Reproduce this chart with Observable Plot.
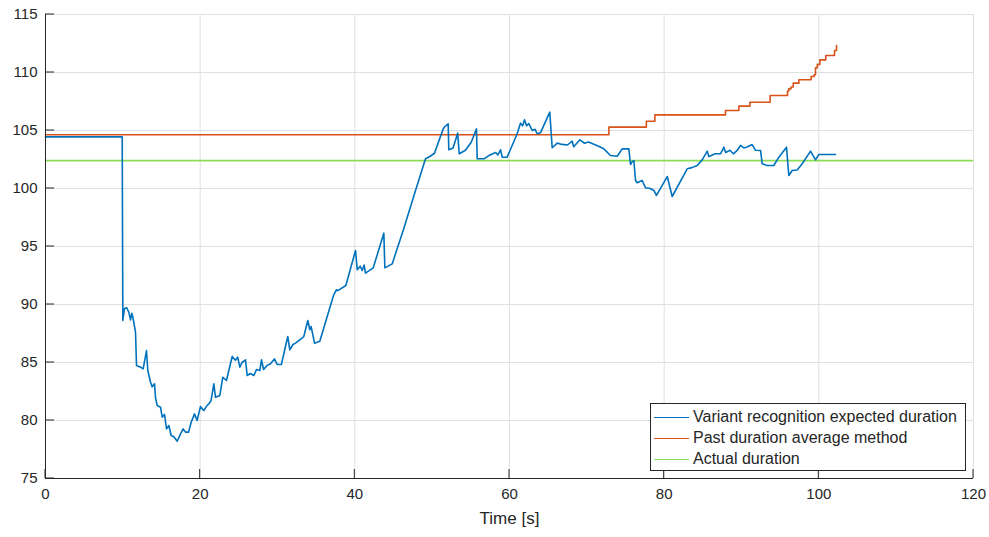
<!DOCTYPE html>
<html>
<head>
<meta charset="utf-8">
<script src="https://cdn.jsdelivr.net/npm/d3@7"></script>
<script src="https://cdn.jsdelivr.net/npm/@observablehq/plot@0.6"></script>
<style>
  body { margin: 0; background: #fff; }
  #wrap { position: relative; width: 989px; height: 537px; font-family: "Liberation Sans", Arial, Helvetica, sans-serif; }
  #legend { position: absolute; left: 650px; top: 403px; width: 316px; height: 68px; border: 1px solid #262626; background: #fff; box-sizing: border-box; }
  .row { position: absolute; left: 0; height: 20px; display: flex; align-items: center; font-size: 16px; color: #262626; white-space: nowrap; }
  .sw { width: 35px; height: 0; border-top: 1.5px solid; margin-left: 3px; margin-right: 4px; }
</style>
</head>
<body>
<div id="wrap"></div>
<script>
// Variant recognition expected duration (blue)
const blueT = [0,9.92,10.0,10.2,10.5,10.77,11.0,11.16,11.3,11.64,11.77,12.28,12.63,13.06,13.23,13.58,13.8,14.1,14.22,14.44,14.87,15.09,15.39,15.65,15.95,16.25,16.6,17.03,17.46,17.8,18.1,18.5,18.84,19.27,19.6,20.04,20.47,20.8,21.12,21.4,21.77,21.98,22.54,22.93,23.4,24.14,24.55,24.85,25.13,25.4,25.86,26.08,26.5,26.94,27.3,27.71,27.93,28.2,28.65,29.1,29.6,29.95,30.5,31.33,31.59,32.0,32.33,33.4,33.92,34.18,34.35,34.79,35.47,37.28,37.63,37.8,38.84,40.09,40.31,40.7,40.95,41.2,41.38,42.38,43.75,43.88,44.83,46.25,47.85,49.14,49.7,50.3,51.43,51.6,52.07,52.15,52.7,53.3,53.5,54.3,55.05,55.73,55.82,56.7,57.33,58.2,58.5,58.84,59.05,59.7,60.99,61.42,61.7,61.94,62.2,62.5,62.94,63.3,63.58,64.0,65.21,65.52,66.17,66.8,67.5,68.1,68.3,69.1,69.7,70.2,71.3,72.2,73.06,73.93,74.57,75.43,75.65,75.85,76.08,76.3,76.5,77.16,77.59,78.2,78.67,79.0,80.4,81.04,82.98,83.6,84.27,84.92,85.57,85.77,86.6,87.29,87.72,87.95,88.5,88.95,89.44,89.87,90.3,90.8,91.38,91.8,92.46,92.68,93.3,94.18,94.83,95.82,96.12,96.55,97.2,97.85,98.93,99.2,99.57,100.0,102.16];
const blueV = [104.45,104.45,88.62,89.63,89.72,89.34,88.68,89.25,88.9,87.61,84.74,84.6,84.45,86.03,84.31,83.3,82.9,83.16,82.0,81.29,81.15,80.29,80.52,79.28,79.57,78.71,78.6,78.21,78.85,79.28,79.0,79.0,79.85,80.57,80.0,81.2,80.86,81.2,81.44,81.7,83.16,82.0,82.16,83.73,83.45,85.52,85.2,85.46,84.6,85.0,85.23,83.88,84.05,83.88,84.4,84.31,85.23,84.4,84.75,84.89,85.31,84.83,84.83,87.24,86.09,86.55,86.67,87.24,88.62,87.82,88.1,86.67,86.84,90.86,91.27,91.2,91.64,94.66,92.99,93.3,92.93,93.4,92.7,93.16,96.15,93.16,93.5,96.38,99.83,102.56,102.76,103.04,105.14,105.3,105.58,103.34,103.5,104.77,102.99,103.3,103.99,105.14,102.56,102.56,102.84,103.1,102.9,103.34,102.7,102.7,104.72,105.63,105.4,105.92,105.4,105.6,105.0,105.1,104.72,104.8,106.58,103.51,103.91,103.8,103.75,104.08,103.6,104.2,103.9,104.0,103.71,103.42,102.84,102.78,103.42,103.42,102.07,102.3,102.41,100.69,100.5,100.69,100.06,100.0,99.83,99.4,101.03,99.31,101.7,101.8,101.98,102.47,103.22,102.76,103.0,102.99,103.56,103.1,103.3,102.99,103.28,103.71,103.5,103.6,103.79,103.3,103.28,102.13,101.98,101.98,102.7,103.56,101.12,101.55,101.6,102.13,103.22,102.9,102.47,102.93,102.93];

// Past duration average method (orange, step)
const orangeT = [0,72.85,77.7,78.8,87.93,89.66,91.08,93.7,95.95,96.12,96.4,96.69,97.42,99.0,99.4,99.57,99.8,100.13,100.9,102.03,102.29,102.3];
const orangeV = [104.63,105.29,105.8,106.35,106.72,107.1,107.44,108.02,108.4,108.59,108.75,109.08,109.37,109.66,109.8,110.4,110.7,111.09,111.47,111.9,112.33,112.33];

// Actual duration (green)
const actualDuration = 102.41;

const xTicks = [0,20,40,60,80,100,120];
const yTicks = [75,80,85,90,95,100,105,110,115];
const xDomain = [0,120];
const yDomain = [75,115];
const seriesNames = ["Variant recognition expected duration","Past duration average method","Actual duration"];
const colors = ["#0072BD","#D95319","#8ADD55"];

const blue = blueT.map((t,i) => ({t, v: blueV[i]}));
const orange = orangeT.map((t,i) => ({t, v: orangeV[i]}));

const axisColor = "#262626";
const gridColor = "#e0e0e0";
const tickLen = 9;

// inward ticks drawn through the plot's own scales
function inwardTicks(index, scales) {
  const g = d3.create("svg:g").attr("stroke", axisColor).attr("stroke-width", 1);
  const x0 = scales.x(xDomain[0]);
  const y0 = scales.y(yDomain[0]);
  for (const t of xTicks) {
    const px = scales.x(t);
    g.append("line").attr("x1", px).attr("x2", px).attr("y1", y0).attr("y2", y0 - tickLen);
  }
  for (const t of yTicks) {
    const py = scales.y(t);
    g.append("line").attr("x1", x0).attr("x2", x0 + tickLen).attr("y1", py).attr("y2", py);
  }
  return g.node();
}

const chart = Plot.plot({
  width: 989, height: 537,
  marginLeft: 45, marginRight: 16, marginTop: 14, marginBottom: 59,
  style: {fontFamily: '"Liberation Sans", Arial, Helvetica, sans-serif', fontSize: "15px", color: axisColor, background: "#fff"},
  x: {domain: xDomain},
  y: {domain: yDomain},
  marks: [
    Plot.gridX(xTicks, {stroke: gridColor, strokeOpacity: 1}),
    Plot.gridY(yTicks, {stroke: gridColor, strokeOpacity: 1}),
    Plot.ruleY([actualDuration], {stroke: colors[2], strokeWidth: 1.8}),
    Plot.line(orange, {x: "t", y: "v", curve: "step-after", stroke: colors[1], strokeWidth: 1.6}),
    Plot.line(blue, {x: "t", y: "v", stroke: colors[0], strokeWidth: 1.6}),
    Plot.ruleX([xDomain[0]], {stroke: axisColor}),
    Plot.ruleY([yDomain[0]], {stroke: axisColor}),
    inwardTicks,
    Plot.axisX(xTicks, {tickSize: 0, tickPadding: 10, label: null, fill: axisColor}),
    Plot.axisY(yTicks, {tickSize: 0, tickPadding: 8, label: null, fill: axisColor}),
    Plot.text(["Time [s]"], {frameAnchor: "bottom", dy: 45, fontSize: 17, fill: axisColor})
  ]
});

const wrap = document.getElementById("wrap");
wrap.appendChild(chart);

const legend = document.createElement("div");
legend.id = "legend";
const rowTops = [3, 24, 45];
seriesNames.forEach((name, i) => {
  const row = document.createElement("div");
  row.className = "row";
  row.style.top = rowTops[i] + "px";
  const sw = document.createElement("div");
  sw.className = "sw";
  sw.style.borderTopColor = colors[i];
  const tx = document.createElement("span");
  tx.textContent = name;
  row.appendChild(sw);
  row.appendChild(tx);
  legend.appendChild(row);
});
wrap.appendChild(legend);
</script>
</body>
</html>
